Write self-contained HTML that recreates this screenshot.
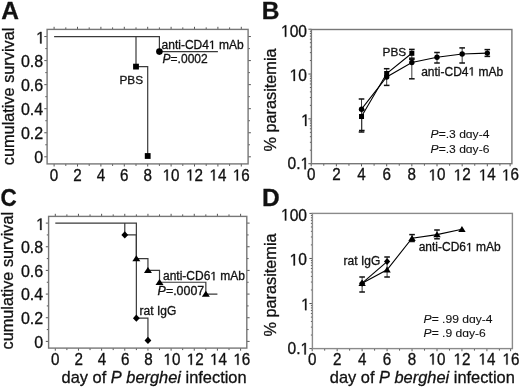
<!DOCTYPE html>
<html><head><meta charset="utf-8"><style>
html,body{margin:0;padding:0;background:#fff;}
svg{display:block;filter:grayscale(1) blur(0.3px);}
text{font-family:"Liberation Sans", sans-serif;fill:#111;stroke:#111;stroke-width:0.3px;font-kerning:none;white-space:pre;}
text.lt{stroke-width:0.1px;}
path.g{fill:#111;stroke:#111;stroke-width:0.3px;vector-effect:non-scaling-stroke;}
</style></head><body>
<svg width="520" height="389" viewBox="0 0 520 389">
<rect width="520" height="389" fill="#fff"/>
<text x="1.20" y="18.90" font-size="24.5" text-anchor="start" font-weight="bold">A</text>
<text x="261.80" y="18.90" font-size="24.5" text-anchor="start" font-weight="bold">B</text>
<text transform="translate(0.60 206.20) scale(0.92 1.0)" font-size="24.5" text-anchor="start" font-weight="bold">C</text>
<text x="262.00" y="206.30" font-size="24.5" text-anchor="start" font-weight="bold">D</text>
<line x1="44.30" y1="156.80" x2="47.10" y2="156.80" stroke="#555" stroke-width="1.0"/>
<line x1="248.10" y1="156.80" x2="250.90" y2="156.80" stroke="#555" stroke-width="1.0"/>
<line x1="45.30" y1="144.78" x2="47.10" y2="144.78" stroke="#555" stroke-width="1.0"/>
<line x1="248.10" y1="144.78" x2="249.90" y2="144.78" stroke="#555" stroke-width="1.0"/>
<line x1="44.30" y1="132.75" x2="47.10" y2="132.75" stroke="#555" stroke-width="1.0"/>
<line x1="248.10" y1="132.75" x2="250.90" y2="132.75" stroke="#555" stroke-width="1.0"/>
<line x1="45.30" y1="120.73" x2="47.10" y2="120.73" stroke="#555" stroke-width="1.0"/>
<line x1="248.10" y1="120.73" x2="249.90" y2="120.73" stroke="#555" stroke-width="1.0"/>
<line x1="44.30" y1="108.70" x2="47.10" y2="108.70" stroke="#555" stroke-width="1.0"/>
<line x1="248.10" y1="108.70" x2="250.90" y2="108.70" stroke="#555" stroke-width="1.0"/>
<line x1="45.30" y1="96.68" x2="47.10" y2="96.68" stroke="#555" stroke-width="1.0"/>
<line x1="248.10" y1="96.68" x2="249.90" y2="96.68" stroke="#555" stroke-width="1.0"/>
<line x1="44.30" y1="84.65" x2="47.10" y2="84.65" stroke="#555" stroke-width="1.0"/>
<line x1="248.10" y1="84.65" x2="250.90" y2="84.65" stroke="#555" stroke-width="1.0"/>
<line x1="45.30" y1="72.62" x2="47.10" y2="72.62" stroke="#555" stroke-width="1.0"/>
<line x1="248.10" y1="72.62" x2="249.90" y2="72.62" stroke="#555" stroke-width="1.0"/>
<line x1="44.30" y1="60.60" x2="47.10" y2="60.60" stroke="#555" stroke-width="1.0"/>
<line x1="248.10" y1="60.60" x2="250.90" y2="60.60" stroke="#555" stroke-width="1.0"/>
<line x1="45.30" y1="48.58" x2="47.10" y2="48.58" stroke="#555" stroke-width="1.0"/>
<line x1="248.10" y1="48.58" x2="249.90" y2="48.58" stroke="#555" stroke-width="1.0"/>
<line x1="44.30" y1="36.55" x2="47.10" y2="36.55" stroke="#555" stroke-width="1.0"/>
<line x1="248.10" y1="36.55" x2="250.90" y2="36.55" stroke="#555" stroke-width="1.0"/>
<line x1="54.10" y1="163.90" x2="54.10" y2="166.50" stroke="#555" stroke-width="1.0"/>
<line x1="54.10" y1="26.80" x2="54.10" y2="29.40" stroke="#555" stroke-width="1.0"/>
<line x1="65.80" y1="163.90" x2="65.80" y2="165.90" stroke="#555" stroke-width="1.0"/>
<line x1="65.80" y1="27.40" x2="65.80" y2="29.40" stroke="#555" stroke-width="1.0"/>
<line x1="77.50" y1="163.90" x2="77.50" y2="166.50" stroke="#555" stroke-width="1.0"/>
<line x1="77.50" y1="26.80" x2="77.50" y2="29.40" stroke="#555" stroke-width="1.0"/>
<line x1="89.20" y1="163.90" x2="89.20" y2="165.90" stroke="#555" stroke-width="1.0"/>
<line x1="89.20" y1="27.40" x2="89.20" y2="29.40" stroke="#555" stroke-width="1.0"/>
<line x1="100.90" y1="163.90" x2="100.90" y2="166.50" stroke="#555" stroke-width="1.0"/>
<line x1="100.90" y1="26.80" x2="100.90" y2="29.40" stroke="#555" stroke-width="1.0"/>
<line x1="112.60" y1="163.90" x2="112.60" y2="165.90" stroke="#555" stroke-width="1.0"/>
<line x1="112.60" y1="27.40" x2="112.60" y2="29.40" stroke="#555" stroke-width="1.0"/>
<line x1="124.30" y1="163.90" x2="124.30" y2="166.50" stroke="#555" stroke-width="1.0"/>
<line x1="124.30" y1="26.80" x2="124.30" y2="29.40" stroke="#555" stroke-width="1.0"/>
<line x1="136.00" y1="163.90" x2="136.00" y2="165.90" stroke="#555" stroke-width="1.0"/>
<line x1="136.00" y1="27.40" x2="136.00" y2="29.40" stroke="#555" stroke-width="1.0"/>
<line x1="147.70" y1="163.90" x2="147.70" y2="166.50" stroke="#555" stroke-width="1.0"/>
<line x1="147.70" y1="26.80" x2="147.70" y2="29.40" stroke="#555" stroke-width="1.0"/>
<line x1="159.40" y1="163.90" x2="159.40" y2="165.90" stroke="#555" stroke-width="1.0"/>
<line x1="159.40" y1="27.40" x2="159.40" y2="29.40" stroke="#555" stroke-width="1.0"/>
<line x1="171.10" y1="163.90" x2="171.10" y2="166.50" stroke="#555" stroke-width="1.0"/>
<line x1="171.10" y1="26.80" x2="171.10" y2="29.40" stroke="#555" stroke-width="1.0"/>
<line x1="182.80" y1="163.90" x2="182.80" y2="165.90" stroke="#555" stroke-width="1.0"/>
<line x1="182.80" y1="27.40" x2="182.80" y2="29.40" stroke="#555" stroke-width="1.0"/>
<line x1="194.50" y1="163.90" x2="194.50" y2="166.50" stroke="#555" stroke-width="1.0"/>
<line x1="194.50" y1="26.80" x2="194.50" y2="29.40" stroke="#555" stroke-width="1.0"/>
<line x1="206.20" y1="163.90" x2="206.20" y2="165.90" stroke="#555" stroke-width="1.0"/>
<line x1="206.20" y1="27.40" x2="206.20" y2="29.40" stroke="#555" stroke-width="1.0"/>
<line x1="217.90" y1="163.90" x2="217.90" y2="166.50" stroke="#555" stroke-width="1.0"/>
<line x1="217.90" y1="26.80" x2="217.90" y2="29.40" stroke="#555" stroke-width="1.0"/>
<line x1="229.60" y1="163.90" x2="229.60" y2="165.90" stroke="#555" stroke-width="1.0"/>
<line x1="229.60" y1="27.40" x2="229.60" y2="29.40" stroke="#555" stroke-width="1.0"/>
<line x1="241.30" y1="163.90" x2="241.30" y2="166.50" stroke="#555" stroke-width="1.0"/>
<line x1="241.30" y1="26.80" x2="241.30" y2="29.40" stroke="#555" stroke-width="1.0"/>
<rect x="47.10" y="29.40" width="201.00" height="134.50" fill="none" stroke="#777" stroke-width="1.4"/>
<text transform="translate(34.30 163.20) scale(1.0 1.05)" font-size="16">0</text>
<text transform="translate(20.96 139.15) scale(1.0 1.05)" font-size="16">0.2</text>
<text transform="translate(20.96 115.10) scale(1.0 1.05)" font-size="16">0.4</text>
<text transform="translate(20.96 91.05) scale(1.0 1.05)" font-size="16">0.6</text>
<text transform="translate(20.96 67.00) scale(1.0 1.05)" font-size="16">0.8</text>
<path class="g" d="M515 0V1237L197 1010V1180L530 1409H696V0Z" transform="translate(36.10 43.45) scale(0.00781 -0.00820)"/>
<text transform="translate(49.87 180.60) scale(1.0 1.05)" font-size="15.2">0</text>
<text transform="translate(73.27 180.60) scale(1.0 1.05)" font-size="15.2">2</text>
<text transform="translate(96.67 180.60) scale(1.0 1.05)" font-size="15.2">4</text>
<text transform="translate(120.07 180.60) scale(1.0 1.05)" font-size="15.2">6</text>
<text transform="translate(143.47 180.60) scale(1.0 1.05)" font-size="15.2">8</text>
<path class="g" d="M515 0V1237L197 1010V1180L530 1409H696V0Z" transform="translate(162.65 180.60) scale(0.00742 -0.00779)"/>
<text transform="translate(171.10 180.60) scale(1.0 1.05)" font-size="15.2">0</text>
<path class="g" d="M515 0V1237L197 1010V1180L530 1409H696V0Z" transform="translate(186.05 180.60) scale(0.00742 -0.00779)"/>
<text transform="translate(194.50 180.60) scale(1.0 1.05)" font-size="15.2">2</text>
<path class="g" d="M515 0V1237L197 1010V1180L530 1409H696V0Z" transform="translate(209.45 180.60) scale(0.00742 -0.00779)"/>
<text transform="translate(217.90 180.60) scale(1.0 1.05)" font-size="15.2">4</text>
<path class="g" d="M515 0V1237L197 1010V1180L530 1409H696V0Z" transform="translate(232.85 180.60) scale(0.00742 -0.00779)"/>
<text transform="translate(241.30 180.60) scale(1.0 1.05)" font-size="15.2">6</text>
<text x="13.8" y="96.4" font-size="16.3" text-anchor="middle" transform="rotate(-90 13.8 96.4)">cumulative survival</text>
<polyline points="54.10,36.55 159.40,36.55 159.40,51.58 217.90,51.58" fill="none" stroke="#3a3a3a" stroke-width="1.2" stroke-linejoin="miter"/>
<polyline points="136.00,36.55 136.00,66.61 147.70,66.61 147.70,156.00" fill="none" stroke="#3a3a3a" stroke-width="1.2" stroke-linejoin="miter"/>
<rect x="133.10" y="63.71" width="5.80" height="5.80" fill="#000"/>
<rect x="144.80" y="153.10" width="5.80" height="5.80" fill="#000"/>
<circle cx="159.40" cy="51.58" r="3.30" fill="#000"/>
<text x="161.60" y="48.90" font-size="12">anti-CD4</text>
<path class="g" d="M515 0V1237L197 1010V1180L530 1409H696V0Z" transform="translate(208.95 48.90) scale(0.00586 -0.00586)"/>
<text x="215.62" y="48.90" font-size="12"> mAb</text>
<text x="162.60" y="63.00" font-size="12" text-anchor="start" ><tspan font-style="italic">P</tspan>=.0002</text>
<text x="119.40" y="83.80" font-size="11.8" text-anchor="start" >PBS</text>
<line x1="45.80" y1="341.40" x2="48.60" y2="341.40" stroke="#555" stroke-width="1.0"/>
<line x1="246.80" y1="341.40" x2="249.60" y2="341.40" stroke="#555" stroke-width="1.0"/>
<line x1="46.80" y1="329.57" x2="48.60" y2="329.57" stroke="#555" stroke-width="1.0"/>
<line x1="246.80" y1="329.57" x2="248.60" y2="329.57" stroke="#555" stroke-width="1.0"/>
<line x1="45.80" y1="317.74" x2="48.60" y2="317.74" stroke="#555" stroke-width="1.0"/>
<line x1="246.80" y1="317.74" x2="249.60" y2="317.74" stroke="#555" stroke-width="1.0"/>
<line x1="46.80" y1="305.91" x2="48.60" y2="305.91" stroke="#555" stroke-width="1.0"/>
<line x1="246.80" y1="305.91" x2="248.60" y2="305.91" stroke="#555" stroke-width="1.0"/>
<line x1="45.80" y1="294.08" x2="48.60" y2="294.08" stroke="#555" stroke-width="1.0"/>
<line x1="246.80" y1="294.08" x2="249.60" y2="294.08" stroke="#555" stroke-width="1.0"/>
<line x1="46.80" y1="282.25" x2="48.60" y2="282.25" stroke="#555" stroke-width="1.0"/>
<line x1="246.80" y1="282.25" x2="248.60" y2="282.25" stroke="#555" stroke-width="1.0"/>
<line x1="45.80" y1="270.42" x2="48.60" y2="270.42" stroke="#555" stroke-width="1.0"/>
<line x1="246.80" y1="270.42" x2="249.60" y2="270.42" stroke="#555" stroke-width="1.0"/>
<line x1="46.80" y1="258.59" x2="48.60" y2="258.59" stroke="#555" stroke-width="1.0"/>
<line x1="246.80" y1="258.59" x2="248.60" y2="258.59" stroke="#555" stroke-width="1.0"/>
<line x1="45.80" y1="246.76" x2="48.60" y2="246.76" stroke="#555" stroke-width="1.0"/>
<line x1="246.80" y1="246.76" x2="249.60" y2="246.76" stroke="#555" stroke-width="1.0"/>
<line x1="46.80" y1="234.93" x2="48.60" y2="234.93" stroke="#555" stroke-width="1.0"/>
<line x1="246.80" y1="234.93" x2="248.60" y2="234.93" stroke="#555" stroke-width="1.0"/>
<line x1="45.80" y1="223.10" x2="48.60" y2="223.10" stroke="#555" stroke-width="1.0"/>
<line x1="246.80" y1="223.10" x2="249.60" y2="223.10" stroke="#555" stroke-width="1.0"/>
<line x1="55.30" y1="348.10" x2="55.30" y2="350.70" stroke="#555" stroke-width="1.0"/>
<line x1="55.30" y1="213.80" x2="55.30" y2="216.40" stroke="#555" stroke-width="1.0"/>
<line x1="66.88" y1="348.10" x2="66.88" y2="350.10" stroke="#555" stroke-width="1.0"/>
<line x1="66.88" y1="214.40" x2="66.88" y2="216.40" stroke="#555" stroke-width="1.0"/>
<line x1="78.46" y1="348.10" x2="78.46" y2="350.70" stroke="#555" stroke-width="1.0"/>
<line x1="78.46" y1="213.80" x2="78.46" y2="216.40" stroke="#555" stroke-width="1.0"/>
<line x1="90.04" y1="348.10" x2="90.04" y2="350.10" stroke="#555" stroke-width="1.0"/>
<line x1="90.04" y1="214.40" x2="90.04" y2="216.40" stroke="#555" stroke-width="1.0"/>
<line x1="101.62" y1="348.10" x2="101.62" y2="350.70" stroke="#555" stroke-width="1.0"/>
<line x1="101.62" y1="213.80" x2="101.62" y2="216.40" stroke="#555" stroke-width="1.0"/>
<line x1="113.20" y1="348.10" x2="113.20" y2="350.10" stroke="#555" stroke-width="1.0"/>
<line x1="113.20" y1="214.40" x2="113.20" y2="216.40" stroke="#555" stroke-width="1.0"/>
<line x1="124.78" y1="348.10" x2="124.78" y2="350.70" stroke="#555" stroke-width="1.0"/>
<line x1="124.78" y1="213.80" x2="124.78" y2="216.40" stroke="#555" stroke-width="1.0"/>
<line x1="136.36" y1="348.10" x2="136.36" y2="350.10" stroke="#555" stroke-width="1.0"/>
<line x1="136.36" y1="214.40" x2="136.36" y2="216.40" stroke="#555" stroke-width="1.0"/>
<line x1="147.94" y1="348.10" x2="147.94" y2="350.70" stroke="#555" stroke-width="1.0"/>
<line x1="147.94" y1="213.80" x2="147.94" y2="216.40" stroke="#555" stroke-width="1.0"/>
<line x1="159.52" y1="348.10" x2="159.52" y2="350.10" stroke="#555" stroke-width="1.0"/>
<line x1="159.52" y1="214.40" x2="159.52" y2="216.40" stroke="#555" stroke-width="1.0"/>
<line x1="171.10" y1="348.10" x2="171.10" y2="350.70" stroke="#555" stroke-width="1.0"/>
<line x1="171.10" y1="213.80" x2="171.10" y2="216.40" stroke="#555" stroke-width="1.0"/>
<line x1="182.68" y1="348.10" x2="182.68" y2="350.10" stroke="#555" stroke-width="1.0"/>
<line x1="182.68" y1="214.40" x2="182.68" y2="216.40" stroke="#555" stroke-width="1.0"/>
<line x1="194.26" y1="348.10" x2="194.26" y2="350.70" stroke="#555" stroke-width="1.0"/>
<line x1="194.26" y1="213.80" x2="194.26" y2="216.40" stroke="#555" stroke-width="1.0"/>
<line x1="205.84" y1="348.10" x2="205.84" y2="350.10" stroke="#555" stroke-width="1.0"/>
<line x1="205.84" y1="214.40" x2="205.84" y2="216.40" stroke="#555" stroke-width="1.0"/>
<line x1="217.42" y1="348.10" x2="217.42" y2="350.70" stroke="#555" stroke-width="1.0"/>
<line x1="217.42" y1="213.80" x2="217.42" y2="216.40" stroke="#555" stroke-width="1.0"/>
<line x1="229.00" y1="348.10" x2="229.00" y2="350.10" stroke="#555" stroke-width="1.0"/>
<line x1="229.00" y1="214.40" x2="229.00" y2="216.40" stroke="#555" stroke-width="1.0"/>
<line x1="240.58" y1="348.10" x2="240.58" y2="350.70" stroke="#555" stroke-width="1.0"/>
<line x1="240.58" y1="213.80" x2="240.58" y2="216.40" stroke="#555" stroke-width="1.0"/>
<rect x="48.60" y="216.40" width="198.20" height="131.70" fill="none" stroke="#777" stroke-width="1.4"/>
<text transform="translate(34.30 347.80) scale(1.0 1.05)" font-size="16">0</text>
<text transform="translate(20.96 324.14) scale(1.0 1.05)" font-size="16">0.2</text>
<text transform="translate(20.96 300.48) scale(1.0 1.05)" font-size="16">0.4</text>
<text transform="translate(20.96 276.82) scale(1.0 1.05)" font-size="16">0.6</text>
<text transform="translate(20.96 253.16) scale(1.0 1.05)" font-size="16">0.8</text>
<path class="g" d="M515 0V1237L197 1010V1180L530 1409H696V0Z" transform="translate(36.10 230.00) scale(0.00781 -0.00820)"/>
<text transform="translate(51.07 364.80) scale(1.0 1.05)" font-size="15.2">0</text>
<text transform="translate(74.39 364.80) scale(1.0 1.05)" font-size="15.2">2</text>
<text transform="translate(97.71 364.80) scale(1.0 1.05)" font-size="15.2">4</text>
<text transform="translate(121.03 364.80) scale(1.0 1.05)" font-size="15.2">6</text>
<text transform="translate(144.35 364.80) scale(1.0 1.05)" font-size="15.2">8</text>
<path class="g" d="M515 0V1237L197 1010V1180L530 1409H696V0Z" transform="translate(163.45 364.80) scale(0.00742 -0.00779)"/>
<text transform="translate(171.90 364.80) scale(1.0 1.05)" font-size="15.2">0</text>
<path class="g" d="M515 0V1237L197 1010V1180L530 1409H696V0Z" transform="translate(186.77 364.80) scale(0.00742 -0.00779)"/>
<text transform="translate(195.22 364.80) scale(1.0 1.05)" font-size="15.2">2</text>
<path class="g" d="M515 0V1237L197 1010V1180L530 1409H696V0Z" transform="translate(210.09 364.80) scale(0.00742 -0.00779)"/>
<text transform="translate(218.54 364.80) scale(1.0 1.05)" font-size="15.2">4</text>
<path class="g" d="M515 0V1237L197 1010V1180L530 1409H696V0Z" transform="translate(233.41 364.80) scale(0.00742 -0.00779)"/>
<text transform="translate(241.86 364.80) scale(1.0 1.05)" font-size="15.2">6</text>
<text x="13.5" y="280.7" font-size="16.3" text-anchor="middle" transform="rotate(-90 13.5 280.7)">cumulative survival</text>
<polyline points="55.30,223.10 136.36,223.10 136.36,258.59 147.94,258.59 147.94,270.42 159.52,270.42 159.52,282.25 205.84,282.25 205.84,294.08 217.42,294.08" fill="none" stroke="#3a3a3a" stroke-width="1.2" stroke-linejoin="miter"/>
<polyline points="124.78,223.10 124.78,234.93 136.36,234.93 136.36,318.20 147.94,318.20 147.94,340.40" fill="none" stroke="#3a3a3a" stroke-width="1.2" stroke-linejoin="miter"/>
<polygon points="136.36,255.29 140.36,261.29 132.36,261.29" fill="#000"/>
<polygon points="147.94,267.12 151.94,273.12 143.94,273.12" fill="#000"/>
<polygon points="159.52,278.95 163.52,284.95 155.52,284.95" fill="#000"/>
<polygon points="205.84,290.78 209.84,296.78 201.84,296.78" fill="#000"/>
<polygon points="124.78,231.33 128.18,234.93 124.78,238.53 121.38,234.93" fill="#000"/>
<polygon points="136.36,314.60 139.76,318.20 136.36,321.80 132.96,318.20" fill="#000"/>
<polygon points="147.94,336.80 151.34,340.40 147.94,344.00 144.54,340.40" fill="#000"/>
<text x="163.00" y="280.20" font-size="12">anti-CD6</text>
<path class="g" d="M515 0V1237L197 1010V1180L530 1409H696V0Z" transform="translate(210.35 280.20) scale(0.00586 -0.00586)"/>
<text x="217.02" y="280.20" font-size="12"> mAb</text>
<text transform="translate(157.60 295.10) scale(1.035 1.0)" font-size="12" text-anchor="start" ><tspan font-style="italic">P</tspan>=.0007</text>
<text x="139.60" y="315.20" font-size="12" text-anchor="start" >rat IgG</text>
<text x="61.60" y="383.20" font-size="16.4" text-anchor="start" >day of <tspan font-style="italic">P berghei</tspan> infection</text>
<line x1="308.40" y1="163.69" x2="311.40" y2="163.69" stroke="#555" stroke-width="1.0"/>
<line x1="309.90" y1="150.19" x2="311.40" y2="150.19" stroke="#555" stroke-width="1.0"/>
<line x1="309.90" y1="142.30" x2="311.40" y2="142.30" stroke="#555" stroke-width="1.0"/>
<line x1="309.90" y1="136.70" x2="311.40" y2="136.70" stroke="#555" stroke-width="1.0"/>
<line x1="309.90" y1="132.36" x2="311.40" y2="132.36" stroke="#555" stroke-width="1.0"/>
<line x1="309.90" y1="128.81" x2="311.40" y2="128.81" stroke="#555" stroke-width="1.0"/>
<line x1="309.90" y1="125.80" x2="311.40" y2="125.80" stroke="#555" stroke-width="1.0"/>
<line x1="309.90" y1="123.20" x2="311.40" y2="123.20" stroke="#555" stroke-width="1.0"/>
<line x1="309.90" y1="120.91" x2="311.40" y2="120.91" stroke="#555" stroke-width="1.0"/>
<line x1="308.40" y1="118.86" x2="311.40" y2="118.86" stroke="#555" stroke-width="1.0"/>
<line x1="309.90" y1="105.36" x2="311.40" y2="105.36" stroke="#555" stroke-width="1.0"/>
<line x1="309.90" y1="97.47" x2="311.40" y2="97.47" stroke="#555" stroke-width="1.0"/>
<line x1="309.90" y1="91.87" x2="311.40" y2="91.87" stroke="#555" stroke-width="1.0"/>
<line x1="309.90" y1="87.53" x2="311.40" y2="87.53" stroke="#555" stroke-width="1.0"/>
<line x1="309.90" y1="83.98" x2="311.40" y2="83.98" stroke="#555" stroke-width="1.0"/>
<line x1="309.90" y1="80.97" x2="311.40" y2="80.97" stroke="#555" stroke-width="1.0"/>
<line x1="309.90" y1="78.37" x2="311.40" y2="78.37" stroke="#555" stroke-width="1.0"/>
<line x1="309.90" y1="76.08" x2="311.40" y2="76.08" stroke="#555" stroke-width="1.0"/>
<line x1="308.40" y1="74.03" x2="311.40" y2="74.03" stroke="#555" stroke-width="1.0"/>
<line x1="309.90" y1="60.53" x2="311.40" y2="60.53" stroke="#555" stroke-width="1.0"/>
<line x1="309.90" y1="52.64" x2="311.40" y2="52.64" stroke="#555" stroke-width="1.0"/>
<line x1="309.90" y1="47.04" x2="311.40" y2="47.04" stroke="#555" stroke-width="1.0"/>
<line x1="309.90" y1="42.70" x2="311.40" y2="42.70" stroke="#555" stroke-width="1.0"/>
<line x1="309.90" y1="39.15" x2="311.40" y2="39.15" stroke="#555" stroke-width="1.0"/>
<line x1="309.90" y1="36.14" x2="311.40" y2="36.14" stroke="#555" stroke-width="1.0"/>
<line x1="309.90" y1="33.54" x2="311.40" y2="33.54" stroke="#555" stroke-width="1.0"/>
<line x1="309.90" y1="31.25" x2="311.40" y2="31.25" stroke="#555" stroke-width="1.0"/>
<line x1="308.40" y1="29.20" x2="311.40" y2="29.20" stroke="#555" stroke-width="1.0"/>
<line x1="311.20" y1="163.70" x2="311.20" y2="166.30" stroke="#555" stroke-width="1.0"/>
<line x1="323.78" y1="163.70" x2="323.78" y2="165.70" stroke="#555" stroke-width="1.0"/>
<line x1="336.36" y1="163.70" x2="336.36" y2="166.30" stroke="#555" stroke-width="1.0"/>
<line x1="348.94" y1="163.70" x2="348.94" y2="165.70" stroke="#555" stroke-width="1.0"/>
<line x1="361.52" y1="163.70" x2="361.52" y2="166.30" stroke="#555" stroke-width="1.0"/>
<line x1="374.10" y1="163.70" x2="374.10" y2="165.70" stroke="#555" stroke-width="1.0"/>
<line x1="386.68" y1="163.70" x2="386.68" y2="166.30" stroke="#555" stroke-width="1.0"/>
<line x1="399.26" y1="163.70" x2="399.26" y2="165.70" stroke="#555" stroke-width="1.0"/>
<line x1="411.84" y1="163.70" x2="411.84" y2="166.30" stroke="#555" stroke-width="1.0"/>
<line x1="424.42" y1="163.70" x2="424.42" y2="165.70" stroke="#555" stroke-width="1.0"/>
<line x1="437.00" y1="163.70" x2="437.00" y2="166.30" stroke="#555" stroke-width="1.0"/>
<line x1="449.58" y1="163.70" x2="449.58" y2="165.70" stroke="#555" stroke-width="1.0"/>
<line x1="462.16" y1="163.70" x2="462.16" y2="166.30" stroke="#555" stroke-width="1.0"/>
<line x1="474.74" y1="163.70" x2="474.74" y2="165.70" stroke="#555" stroke-width="1.0"/>
<line x1="487.32" y1="163.70" x2="487.32" y2="166.30" stroke="#555" stroke-width="1.0"/>
<line x1="499.90" y1="163.70" x2="499.90" y2="165.70" stroke="#555" stroke-width="1.0"/>
<line x1="510.10" y1="163.70" x2="510.10" y2="166.30" stroke="#555" stroke-width="1.0"/>
<rect x="311.40" y="29.50" width="200.50" height="134.20" fill="none" stroke="#777" stroke-width="1.4"/>
<path class="g" d="M515 0V1237L197 1010V1180L530 1409H696V0Z" transform="translate(280.97 36.80) scale(0.00762 -0.00815)"/>
<text transform="translate(289.65 36.80) scale(1.0 1.07)" font-size="15.6">00</text>
<path class="g" d="M515 0V1237L197 1010V1180L530 1409H696V0Z" transform="translate(289.65 80.93) scale(0.00762 -0.00815)"/>
<text transform="translate(298.32 80.93) scale(1.0 1.07)" font-size="15.6">0</text>
<path class="g" d="M515 0V1237L197 1010V1180L530 1409H696V0Z" transform="translate(301.12 125.96) scale(0.00762 -0.00815)"/>
<text transform="translate(287.51 169.29) scale(1.0 1.07)" font-size="15.6">0.</text>
<path class="g" d="M515 0V1237L197 1010V1180L530 1409H696V0Z" transform="translate(300.52 169.29) scale(0.00762 -0.00815)"/>
<text transform="translate(306.97 180.40) scale(1.0 1.05)" font-size="15.2">0</text>
<text transform="translate(332.13 180.40) scale(1.0 1.05)" font-size="15.2">2</text>
<text transform="translate(357.29 180.40) scale(1.0 1.05)" font-size="15.2">4</text>
<text transform="translate(382.45 180.40) scale(1.0 1.05)" font-size="15.2">6</text>
<text transform="translate(407.61 180.40) scale(1.0 1.05)" font-size="15.2">8</text>
<path class="g" d="M515 0V1237L197 1010V1180L530 1409H696V0Z" transform="translate(428.55 180.40) scale(0.00742 -0.00779)"/>
<text transform="translate(437.00 180.40) scale(1.0 1.05)" font-size="15.2">0</text>
<path class="g" d="M515 0V1237L197 1010V1180L530 1409H696V0Z" transform="translate(453.71 180.40) scale(0.00742 -0.00779)"/>
<text transform="translate(462.16 180.40) scale(1.0 1.05)" font-size="15.2">2</text>
<path class="g" d="M515 0V1237L197 1010V1180L530 1409H696V0Z" transform="translate(478.87 180.40) scale(0.00742 -0.00779)"/>
<text transform="translate(487.32 180.40) scale(1.0 1.05)" font-size="15.2">4</text>
<path class="g" d="M515 0V1237L197 1010V1180L530 1409H696V0Z" transform="translate(501.95 180.40) scale(0.00742 -0.00779)"/>
<text transform="translate(510.40 180.40) scale(1.0 1.05)" font-size="15.2">6</text>
<text x="275.7" y="100.0" font-size="16.3" text-anchor="middle" transform="rotate(-90 275.7 100.0)">% parasitemia</text>
<line x1="361.52" y1="99.00" x2="361.52" y2="132.00" stroke="#3a3a3a" stroke-width="1.0"/>
<line x1="358.72" y1="99.00" x2="364.32" y2="99.00" stroke="#111" stroke-width="1.5"/>
<line x1="358.72" y1="132.00" x2="364.32" y2="132.00" stroke="#111" stroke-width="1.5"/>
<line x1="361.82" y1="110.00" x2="361.82" y2="130.50" stroke="#3a3a3a" stroke-width="1.0"/>
<line x1="359.02" y1="110.00" x2="364.62" y2="110.00" stroke="#111" stroke-width="1.5"/>
<line x1="359.02" y1="130.50" x2="364.62" y2="130.50" stroke="#111" stroke-width="1.5"/>
<line x1="386.68" y1="68.70" x2="386.68" y2="85.40" stroke="#3a3a3a" stroke-width="1.0"/>
<line x1="383.88" y1="68.70" x2="389.48" y2="68.70" stroke="#111" stroke-width="1.5"/>
<line x1="383.88" y1="85.40" x2="389.48" y2="85.40" stroke="#111" stroke-width="1.5"/>
<line x1="411.84" y1="49.40" x2="411.84" y2="58.20" stroke="#3a3a3a" stroke-width="1.0"/>
<line x1="409.04" y1="49.40" x2="414.64" y2="49.40" stroke="#111" stroke-width="1.5"/>
<line x1="409.04" y1="58.20" x2="414.64" y2="58.20" stroke="#111" stroke-width="1.5"/>
<line x1="411.84" y1="59.40" x2="411.84" y2="78.80" stroke="#3a3a3a" stroke-width="1.0"/>
<line x1="409.04" y1="59.40" x2="414.64" y2="59.40" stroke="#111" stroke-width="1.5"/>
<line x1="409.04" y1="78.80" x2="414.64" y2="78.80" stroke="#111" stroke-width="1.5"/>
<line x1="437.00" y1="52.50" x2="437.00" y2="63.00" stroke="#3a3a3a" stroke-width="1.0"/>
<line x1="434.20" y1="52.50" x2="439.80" y2="52.50" stroke="#111" stroke-width="1.5"/>
<line x1="434.20" y1="63.00" x2="439.80" y2="63.00" stroke="#111" stroke-width="1.5"/>
<line x1="462.16" y1="47.90" x2="462.16" y2="63.00" stroke="#3a3a3a" stroke-width="1.0"/>
<line x1="459.36" y1="47.90" x2="464.96" y2="47.90" stroke="#111" stroke-width="1.5"/>
<line x1="459.36" y1="63.00" x2="464.96" y2="63.00" stroke="#111" stroke-width="1.5"/>
<line x1="487.32" y1="49.60" x2="487.32" y2="56.40" stroke="#3a3a3a" stroke-width="1.0"/>
<line x1="484.52" y1="49.60" x2="490.12" y2="49.60" stroke="#111" stroke-width="1.5"/>
<line x1="484.52" y1="56.40" x2="490.12" y2="56.40" stroke="#111" stroke-width="1.5"/>
<polyline points="361.52,116.50 386.68,73.50 411.84,53.30" fill="none" stroke="#000" stroke-width="1.1" stroke-linejoin="miter"/>
<polyline points="361.52,109.20 386.68,77.00 411.84,62.50 437.00,57.30 462.16,54.00 487.32,53.10" fill="none" stroke="#000" stroke-width="1.1" stroke-linejoin="miter"/>
<rect x="359.02" y="114.00" width="5.00" height="5.00" fill="#000"/>
<rect x="384.18" y="71.00" width="5.00" height="5.00" fill="#000"/>
<rect x="409.34" y="50.80" width="5.00" height="5.00" fill="#000"/>
<circle cx="361.52" cy="109.20" r="2.70" fill="#000"/>
<circle cx="386.68" cy="77.00" r="2.70" fill="#000"/>
<circle cx="411.84" cy="62.50" r="2.70" fill="#000"/>
<circle cx="437.00" cy="57.30" r="2.70" fill="#000"/>
<circle cx="462.16" cy="54.00" r="2.70" fill="#000"/>
<circle cx="487.32" cy="53.10" r="2.70" fill="#000"/>
<text x="382.60" y="55.60" font-size="11.8" text-anchor="start" >PBS</text>
<text x="421.20" y="75.60" font-size="12">anti-CD4</text>
<path class="g" d="M515 0V1237L197 1010V1180L530 1409H696V0Z" transform="translate(468.55 75.60) scale(0.00586 -0.00586)"/>
<text x="475.22" y="75.60" font-size="12"> mAb</text>
<text transform="translate(430.60 138.30) scale(1.1 1.0)" font-size="11" text-anchor="start" class="lt"><tspan font-style="italic">P</tspan>=.3 d&#593;y-4</text>
<text transform="translate(430.60 153.00) scale(1.1 1.0)" font-size="11" text-anchor="start" class="lt"><tspan font-style="italic">P</tspan>=.3 d&#593;y-6</text>
<text x="329.80" y="383.20" font-size="16.4" text-anchor="start" >day of <tspan font-style="italic">P berghei</tspan> infection</text>
<line x1="309.40" y1="348.61" x2="312.40" y2="348.61" stroke="#555" stroke-width="1.0"/>
<line x1="310.90" y1="335.04" x2="312.40" y2="335.04" stroke="#555" stroke-width="1.0"/>
<line x1="310.90" y1="327.11" x2="312.40" y2="327.11" stroke="#555" stroke-width="1.0"/>
<line x1="310.90" y1="321.48" x2="312.40" y2="321.48" stroke="#555" stroke-width="1.0"/>
<line x1="310.90" y1="317.11" x2="312.40" y2="317.11" stroke="#555" stroke-width="1.0"/>
<line x1="310.90" y1="313.54" x2="312.40" y2="313.54" stroke="#555" stroke-width="1.0"/>
<line x1="310.90" y1="310.52" x2="312.40" y2="310.52" stroke="#555" stroke-width="1.0"/>
<line x1="310.90" y1="307.91" x2="312.40" y2="307.91" stroke="#555" stroke-width="1.0"/>
<line x1="310.90" y1="305.60" x2="312.40" y2="305.60" stroke="#555" stroke-width="1.0"/>
<line x1="309.40" y1="303.54" x2="312.40" y2="303.54" stroke="#555" stroke-width="1.0"/>
<line x1="310.90" y1="289.97" x2="312.40" y2="289.97" stroke="#555" stroke-width="1.0"/>
<line x1="310.90" y1="282.04" x2="312.40" y2="282.04" stroke="#555" stroke-width="1.0"/>
<line x1="310.90" y1="276.41" x2="312.40" y2="276.41" stroke="#555" stroke-width="1.0"/>
<line x1="310.90" y1="272.04" x2="312.40" y2="272.04" stroke="#555" stroke-width="1.0"/>
<line x1="310.90" y1="268.47" x2="312.40" y2="268.47" stroke="#555" stroke-width="1.0"/>
<line x1="310.90" y1="265.45" x2="312.40" y2="265.45" stroke="#555" stroke-width="1.0"/>
<line x1="310.90" y1="262.84" x2="312.40" y2="262.84" stroke="#555" stroke-width="1.0"/>
<line x1="310.90" y1="260.53" x2="312.40" y2="260.53" stroke="#555" stroke-width="1.0"/>
<line x1="309.40" y1="258.47" x2="312.40" y2="258.47" stroke="#555" stroke-width="1.0"/>
<line x1="310.90" y1="244.90" x2="312.40" y2="244.90" stroke="#555" stroke-width="1.0"/>
<line x1="310.90" y1="236.97" x2="312.40" y2="236.97" stroke="#555" stroke-width="1.0"/>
<line x1="310.90" y1="231.34" x2="312.40" y2="231.34" stroke="#555" stroke-width="1.0"/>
<line x1="310.90" y1="226.97" x2="312.40" y2="226.97" stroke="#555" stroke-width="1.0"/>
<line x1="310.90" y1="223.40" x2="312.40" y2="223.40" stroke="#555" stroke-width="1.0"/>
<line x1="310.90" y1="220.38" x2="312.40" y2="220.38" stroke="#555" stroke-width="1.0"/>
<line x1="310.90" y1="217.77" x2="312.40" y2="217.77" stroke="#555" stroke-width="1.0"/>
<line x1="310.90" y1="215.46" x2="312.40" y2="215.46" stroke="#555" stroke-width="1.0"/>
<line x1="309.40" y1="213.40" x2="312.40" y2="213.40" stroke="#555" stroke-width="1.0"/>
<line x1="312.20" y1="348.60" x2="312.20" y2="351.20" stroke="#555" stroke-width="1.0"/>
<line x1="324.68" y1="348.60" x2="324.68" y2="350.60" stroke="#555" stroke-width="1.0"/>
<line x1="337.16" y1="348.60" x2="337.16" y2="351.20" stroke="#555" stroke-width="1.0"/>
<line x1="349.64" y1="348.60" x2="349.64" y2="350.60" stroke="#555" stroke-width="1.0"/>
<line x1="362.12" y1="348.60" x2="362.12" y2="351.20" stroke="#555" stroke-width="1.0"/>
<line x1="374.60" y1="348.60" x2="374.60" y2="350.60" stroke="#555" stroke-width="1.0"/>
<line x1="387.08" y1="348.60" x2="387.08" y2="351.20" stroke="#555" stroke-width="1.0"/>
<line x1="399.56" y1="348.60" x2="399.56" y2="350.60" stroke="#555" stroke-width="1.0"/>
<line x1="412.04" y1="348.60" x2="412.04" y2="351.20" stroke="#555" stroke-width="1.0"/>
<line x1="424.52" y1="348.60" x2="424.52" y2="350.60" stroke="#555" stroke-width="1.0"/>
<line x1="437.00" y1="348.60" x2="437.00" y2="351.20" stroke="#555" stroke-width="1.0"/>
<line x1="449.48" y1="348.60" x2="449.48" y2="350.60" stroke="#555" stroke-width="1.0"/>
<line x1="461.96" y1="348.60" x2="461.96" y2="351.20" stroke="#555" stroke-width="1.0"/>
<line x1="474.44" y1="348.60" x2="474.44" y2="350.60" stroke="#555" stroke-width="1.0"/>
<line x1="486.92" y1="348.60" x2="486.92" y2="351.20" stroke="#555" stroke-width="1.0"/>
<line x1="499.40" y1="348.60" x2="499.40" y2="350.60" stroke="#555" stroke-width="1.0"/>
<line x1="510.60" y1="348.60" x2="510.60" y2="351.20" stroke="#555" stroke-width="1.0"/>
<rect x="312.40" y="213.40" width="200.00" height="135.20" fill="none" stroke="#8a8a8a" stroke-width="1.4"/>
<path class="g" d="M515 0V1237L197 1010V1180L530 1409H696V0Z" transform="translate(280.97 220.50) scale(0.00762 -0.00815)"/>
<text transform="translate(289.65 220.50) scale(1.0 1.07)" font-size="15.6">00</text>
<path class="g" d="M515 0V1237L197 1010V1180L530 1409H696V0Z" transform="translate(289.65 265.47) scale(0.00762 -0.00815)"/>
<text transform="translate(298.32 265.47) scale(1.0 1.07)" font-size="15.6">0</text>
<path class="g" d="M515 0V1237L197 1010V1180L530 1409H696V0Z" transform="translate(301.12 310.14) scale(0.00762 -0.00815)"/>
<text transform="translate(287.51 354.41) scale(1.0 1.07)" font-size="15.6">0.</text>
<path class="g" d="M515 0V1237L197 1010V1180L530 1409H696V0Z" transform="translate(300.52 354.41) scale(0.00762 -0.00815)"/>
<text transform="translate(307.97 364.60) scale(1.0 1.05)" font-size="15.2">0</text>
<text transform="translate(332.93 364.60) scale(1.0 1.05)" font-size="15.2">2</text>
<text transform="translate(357.89 364.60) scale(1.0 1.05)" font-size="15.2">4</text>
<text transform="translate(382.85 364.60) scale(1.0 1.05)" font-size="15.2">6</text>
<text transform="translate(407.81 364.60) scale(1.0 1.05)" font-size="15.2">8</text>
<path class="g" d="M515 0V1237L197 1010V1180L530 1409H696V0Z" transform="translate(428.55 364.60) scale(0.00742 -0.00779)"/>
<text transform="translate(437.00 364.60) scale(1.0 1.05)" font-size="15.2">0</text>
<path class="g" d="M515 0V1237L197 1010V1180L530 1409H696V0Z" transform="translate(453.51 364.60) scale(0.00742 -0.00779)"/>
<text transform="translate(461.96 364.60) scale(1.0 1.05)" font-size="15.2">2</text>
<path class="g" d="M515 0V1237L197 1010V1180L530 1409H696V0Z" transform="translate(478.47 364.60) scale(0.00742 -0.00779)"/>
<text transform="translate(486.92 364.60) scale(1.0 1.05)" font-size="15.2">4</text>
<path class="g" d="M515 0V1237L197 1010V1180L530 1409H696V0Z" transform="translate(502.45 364.60) scale(0.00742 -0.00779)"/>
<text transform="translate(510.90 364.60) scale(1.0 1.05)" font-size="15.2">6</text>
<text x="276.0" y="285.0" font-size="16.3" text-anchor="middle" transform="rotate(-90 276.0 285.0)">% parasitemia</text>
<line x1="362.12" y1="277.00" x2="362.12" y2="292.00" stroke="#3a3a3a" stroke-width="1.0"/>
<line x1="359.32" y1="277.00" x2="364.92" y2="277.00" stroke="#111" stroke-width="1.5"/>
<line x1="359.32" y1="292.00" x2="364.92" y2="292.00" stroke="#111" stroke-width="1.5"/>
<line x1="387.08" y1="257.00" x2="387.08" y2="277.00" stroke="#3a3a3a" stroke-width="1.0"/>
<line x1="384.28" y1="257.00" x2="389.88" y2="257.00" stroke="#111" stroke-width="1.5"/>
<line x1="384.28" y1="277.00" x2="389.88" y2="277.00" stroke="#111" stroke-width="1.5"/>
<line x1="412.04" y1="234.60" x2="412.04" y2="241.50" stroke="#3a3a3a" stroke-width="1.0"/>
<line x1="409.24" y1="234.60" x2="414.84" y2="234.60" stroke="#111" stroke-width="1.5"/>
<line x1="409.24" y1="241.50" x2="414.84" y2="241.50" stroke="#111" stroke-width="1.5"/>
<line x1="437.00" y1="230.00" x2="437.00" y2="238.80" stroke="#3a3a3a" stroke-width="1.0"/>
<line x1="434.20" y1="230.00" x2="439.80" y2="230.00" stroke="#111" stroke-width="1.5"/>
<line x1="434.20" y1="238.80" x2="439.80" y2="238.80" stroke="#111" stroke-width="1.5"/>
<polyline points="362.12,283.20 387.08,261.60" fill="none" stroke="#000" stroke-width="1.1" stroke-linejoin="miter"/>
<polyline points="362.12,283.20 387.08,269.80 412.04,238.20 437.00,234.60 461.96,229.20" fill="none" stroke="#000" stroke-width="1.1" stroke-linejoin="miter"/>
<polygon points="362.12,279.70 365.22,283.20 362.12,286.70 359.02,283.20" fill="#000"/>
<polygon points="387.08,258.10 390.18,261.60 387.08,265.10 383.98,261.60" fill="#000"/>
<polygon points="362.12,279.90 365.82,285.90 358.42,285.90" fill="#000"/>
<polygon points="387.08,266.50 390.78,272.50 383.38,272.50" fill="#000"/>
<polygon points="412.04,234.90 415.74,240.90 408.34,240.90" fill="#000"/>
<polygon points="437.00,231.30 440.70,237.30 433.30,237.30" fill="#000"/>
<polygon points="461.96,225.90 465.66,231.90 458.26,231.90" fill="#000"/>
<text x="343.60" y="264.80" font-size="12" text-anchor="start" >rat IgG</text>
<text x="418.70" y="251.30" font-size="12">anti-CD6</text>
<path class="g" d="M515 0V1237L197 1010V1180L530 1409H696V0Z" transform="translate(466.05 251.30) scale(0.00586 -0.00586)"/>
<text x="472.72" y="251.30" font-size="12"> mAb</text>
<text transform="translate(423.60 322.90) scale(1.1 1.0)" font-size="11" text-anchor="start" class="lt"><tspan font-style="italic">P</tspan>= .99 d&#593;y-4</text>
<text transform="translate(423.60 337.10) scale(1.1 1.0)" font-size="11" text-anchor="start" class="lt"><tspan font-style="italic">P</tspan>= .9 d&#593;y-6</text>
</svg>
</body></html>
